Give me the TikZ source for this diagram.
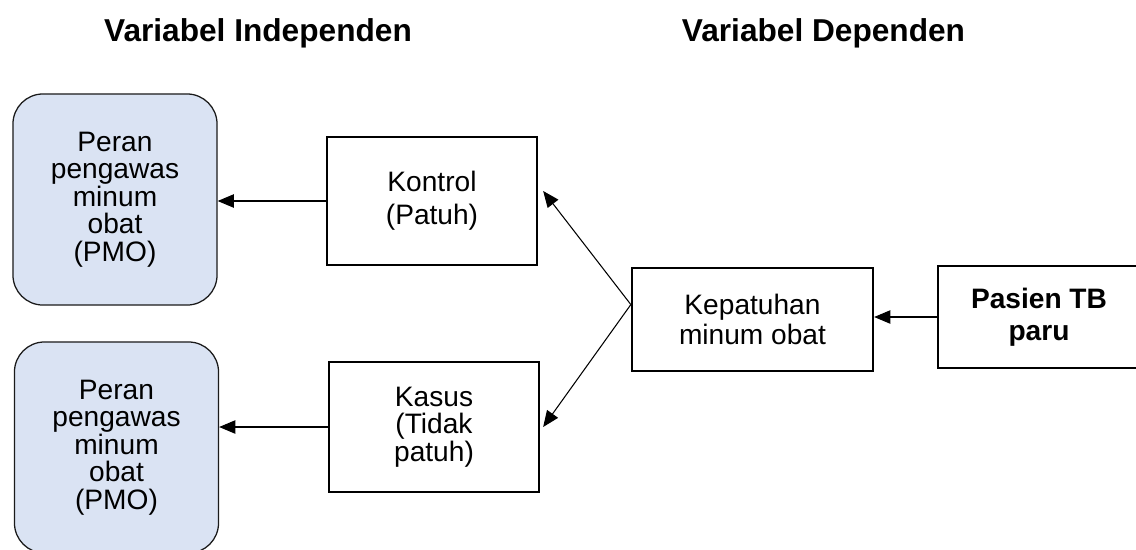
\documentclass[tikz,border=0pt]{standalone}
\usepackage{fontspec}
\setmainfont{Liberation Sans}
\usetikzlibrary{positioning,arrows.meta,calc}
\definecolor{pmofill}{HTML}{DAE3F3}
\definecolor{pmoline}{HTML}{1A1A1A}
\newcommand{\bodyfont}{\fontsize{20pt}{19.6pt}\selectfont}
\newcommand{\headfont}{\fontsize{22.5pt}{24pt}\selectfont\bfseries}
\tikzset{
  box/.style={draw=black,line width=1.6pt,fill=white,font=\bodyfont,align=center,inner sep=2pt},
  pmo/.style={draw=pmoline,line width=0.9pt,fill=pmofill,rounded corners=0.75cm,font=\bodyfont,align=center,
    minimum width=5.1cm,minimum height=5.275cm,inner sep=2pt},
  head/.style={font=\headfont,anchor=base,inner sep=0pt},
  arr/.style={-{Triangle[length=11.5pt,width=9.5pt]},line width=0.75pt,black},
}
\begin{document}
\begin{tikzpicture}[x=0.025cm,y=-0.025cm]
\useasboundingbox (0,0) rectangle (1136,549);
\clip (0,0) rectangle (1136,549);
\node[head] (hind) at (258,41) {Variabel Independen};
\node[head] (hdep) at (823.5,41) {Variabel Dependen};
\node[pmo] (pmoA) at (115,199.5) {Peran\\pengawas\\minum\\obat\\(PMO)};
\node[pmo] (pmoB) at (116.5,447.5) {Peran\\pengawas\\minum\\obat\\(PMO)};
\node[box,minimum width=5.25cm,minimum height=3.2cm] (kontrol) at (432,201) {Kontrol\\[4pt](Patuh)};
\node[box,minimum width=5.25cm,minimum height=3.25cm] (kasus) at (434,427) {Kasus\\(Tidak\\patuh)};
\node[box,minimum width=6.025cm,minimum height=2.575cm] (kepatuhan) at (752.5,319.5) {Kepatuhan\\[1.5pt]minum obat};
\node[box,minimum width=5.05cm,minimum height=2.55cm,font=\bodyfont\bfseries] (pasien) at (1039,317) {Pasien TB\\[3pt]paru};
\draw[arr] (kontrol.west) -- (kontrol.west -| pmoA.east);
\draw[arr] (kasus.west) -- (kasus.west -| pmoB.east);
\draw[arr] (kepatuhan.173) -- ([shift={(5,-10)}]kontrol.east);
\draw[arr] (kepatuhan.173) -- ([shift={(3,0)}]kasus.east);
\draw[arr] (pasien.west) -- (pasien.west -| kepatuhan.east);
\end{tikzpicture}
\end{document}
